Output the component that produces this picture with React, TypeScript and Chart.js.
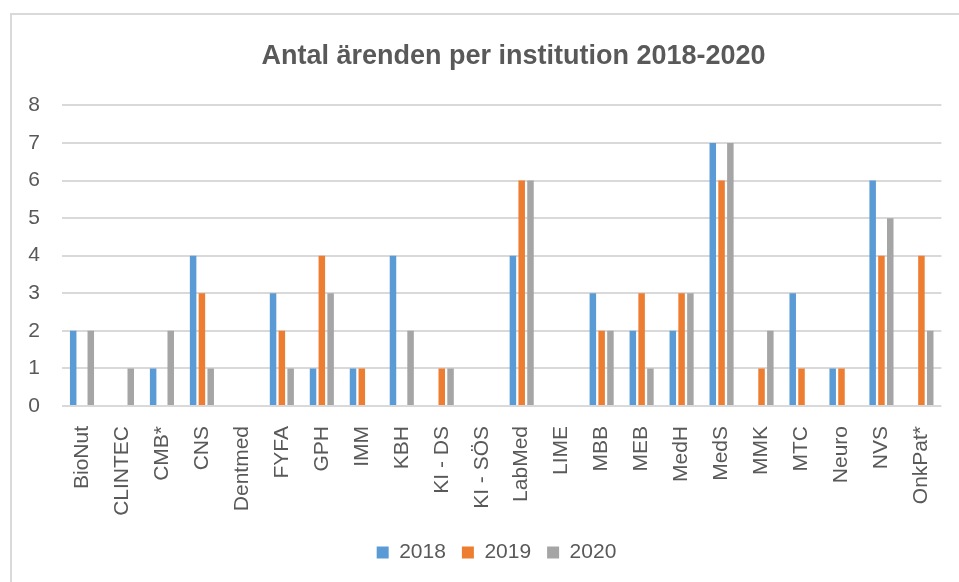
import React, { useEffect, useRef } from "react";
import { Chart, registerables } from "chart.js";

Chart.register(...registerables);

const categories = [
  "BioNut", "CLINTEC", "CMB*", "CNS", "Dentmed", "FYFA", "GPH", "IMM", "KBH",
  "KI - DS", "KI - SÖS", "LabMed", "LIME", "MBB", "MEB", "MedH", "MedS", "MMK",
  "MTC", "Neuro", "NVS", "OnkPat*",
];
const values2018 = [2, 0, 1, 4, 0, 3, 1, 1, 4, 0, 0, 4, 0, 3, 2, 2, 7, 0, 3, 1, 6, 0];
const values2019 = [0, 0, 0, 3, 0, 2, 4, 1, 0, 1, 0, 6, 0, 2, 3, 3, 6, 1, 1, 1, 4, 4];
const values2020 = [2, 1, 2, 1, 0, 1, 3, 0, 2, 1, 0, 6, 0, 2, 1, 3, 7, 2, 0, 0, 5, 2];
const seriesLabels = ["2018", "2019", "2020"];
const seriesColors = ["#5B9BD5", "#ED7D31", "#A5A5A5"];
const titleText = "Antal ärenden per institution 2018-2020";

const FONT = "'Liberation Sans', Arial, sans-serif";
const TEXT = "#595959";
const GRID = "#d9d9d9";

const boxShift = {
  id: "boxShift",
  afterLayout(chart: any) {
    const t = chart.titleBlock;
    if (t) {
      t.left += 32;
      t.right += 32;
    }
    const l = chart.legend;
    if (l) {
      l.left += 15;
      l.right += 15;
    }
  },
};

export default function App() {
  const ref = useRef<HTMLCanvasElement | null>(null);

  useEffect(() => {
    if (!ref.current) return;
    const data = [values2018, values2019, values2020];
    const chart = new Chart(ref.current, {
      type: "bar",
      data: {
        labels: categories,
        datasets: seriesLabels.map((lab, i) => ({
          label: lab,
          data: data[i],
          backgroundColor: seriesColors[i],
          borderWidth: 0,
          categoryPercentage: 0.66,
          barPercentage: 0.74,
        })),
      },
      options: {
        animation: false,
        responsive: true,
        maintainAspectRatio: false,
        layout: { padding: { left: 20, right: 16, top: 14, bottom: 9 } },
        plugins: {
          title: {
            display: true,
            text: titleText,
            color: TEXT,
            font: { family: FONT, size: 27, weight: "bold" },
            padding: { top: 26, bottom: 33 },
          },
          legend: {
            position: "bottom",
            labels: {
              color: TEXT,
              font: { family: FONT, size: 21 },
              boxWidth: 12,
              boxHeight: 12,
              padding: 16,
            },
          },
          tooltip: { enabled: false },
        },
        scales: {
          x: {
            grid: { display: false },
            border: { display: false },
            ticks: {
              color: TEXT,
              font: { family: FONT, size: 21 },
              minRotation: 90,
              maxRotation: 90,
              autoSkip: false,
              padding: 12,
            },
            afterFit(scale: any) {
              scale.height = 120;
            },
          },
          y: {
            min: 0,
            max: 8,
            grid: { color: GRID, lineWidth: 2, drawTicks: false },
            border: { display: false },
            ticks: {
              stepSize: 1,
              color: TEXT,
              font: { family: FONT, size: 21 },
              padding: 22,
            },
            afterFit(scale: any) {
              scale.width = 42;
            },
          },
        },
      },
      plugins: [boxShift],
    });
    return () => chart.destroy();
  }, []);

  return (
    <div style={{ position: "fixed", left: 0, top: 0, width: 959, height: 582, background: "#fff", overflow: "hidden" }}>
      <div
        style={{
          position: "absolute",
          left: 10,
          top: 13,
          width: 1000,
          height: 1000,
          borderLeft: `2px solid ${GRID}`,
          borderTop: `2px solid ${GRID}`,
          pointerEvents: "none",
        }}
      />
      <canvas ref={ref} style={{ position: "absolute", left: 0, top: 0, width: 959, height: 582 }} />
    </div>
  );
}
